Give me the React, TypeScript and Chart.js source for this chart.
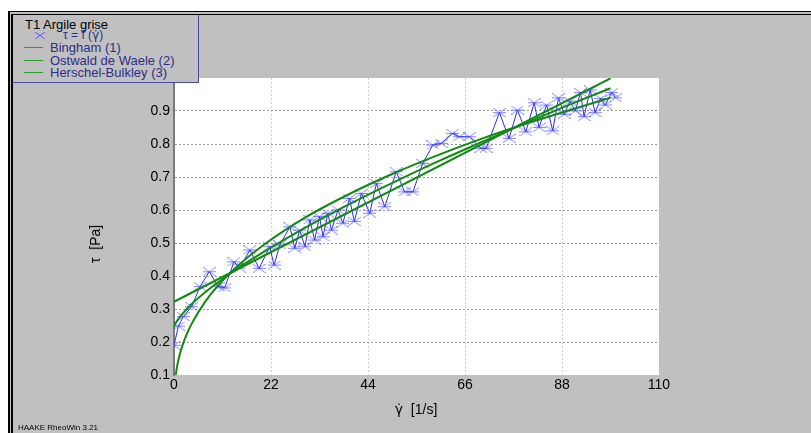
import React, { useEffect, useRef } from 'react';
import { Chart, registerables } from 'chart.js';
Chart.register(...registerables);

// Measured data: shear rate [1/s] and shear stress [Pa]
const shearRate = [0.0, 1.0, 2.1, 4.0, 5.9, 8.0, 10.0, 11.5, 13.6, 14.9, 17.2, 19.3, 21.7, 22.7, 24.0, 26.3, 27.4, 28.5, 29.7, 30.8, 31.9, 33.0, 33.8, 34.9, 35.7, 37.2, 38.3, 39.8, 40.9, 42.5, 44.4, 45.9, 47.8, 50.4, 52.3, 54.2, 56.4, 58.7, 60.6, 63.2, 64.7, 67.0, 69.6, 70.8, 73.8, 76.0, 77.9, 79.8, 81.7, 82.8, 84.5, 85.9, 87.2, 88.5, 89.8, 91.0, 92.2, 93.0, 94.4, 95.5, 96.8, 97.8, 99.3, 100.2];
const shearStress = [0.19, 0.248, 0.277, 0.307, 0.368, 0.413, 0.368, 0.364, 0.443, 0.424, 0.479, 0.423, 0.489, 0.433, 0.494, 0.549, 0.484, 0.539, 0.489, 0.57, 0.509, 0.58, 0.519, 0.59, 0.539, 0.6, 0.56, 0.635, 0.565, 0.65, 0.59, 0.68, 0.61, 0.716, 0.655, 0.655, 0.741, 0.797, 0.802, 0.832, 0.822, 0.822, 0.787, 0.787, 0.895, 0.817, 0.903, 0.837, 0.925, 0.85, 0.918, 0.84, 0.94, 0.89, 0.93, 0.9, 0.956, 0.883, 0.964, 0.895, 0.938, 0.918, 0.956, 0.94];

// Fit curves
const binghamX = [0, 99];
const binghamY = [0.322, 0.999];
const ostwaldX = [0.4, 0.7, 1, 1.5, 2, 3, 4, 7, 10, 15, 20, 30, 40, 50, 60, 70, 80, 90, 99];
const ostwaldY = [0.1, 0.126, 0.1455, 0.172, 0.193, 0.227, 0.255, 0.321, 0.371, 0.437, 0.491, 0.579, 0.65, 0.712, 0.767, 0.817, 0.862, 0.904, 0.94];
const hbX = [0, 0.3, 1, 2, 4, 7, 10, 15, 20, 30, 40, 50, 60, 70, 80, 90, 99];
const hbY = [0.245, 0.2555, 0.27, 0.287, 0.315, 0.35, 0.381, 0.428, 0.47, 0.548, 0.619, 0.685, 0.748, 0.807, 0.865, 0.921, 0.969];

const xTicks = [0, 22, 44, 66, 88, 110];
const yTickLabels = ['0.1', '0.2', '0.3', '0.4', '0.5', '0.6', '0.7', '0.8', '0.9'];

const FONT = '"Liberation Sans", Arial, sans-serif';
const GREEN = '#128a12';
const LEGEND_GREEN = '#2c9c2c';

export default function App() {
  const ref = useRef<HTMLCanvasElement>(null);

  useEffect(() => {
    const marker = document.createElement('canvas');
    marker.width = 13;
    marker.height = 9;
    const m = marker.getContext('2d')!;
    m.strokeStyle = 'rgba(70,70,255,0.65)';
    m.lineWidth = 1;
    m.beginPath();
    m.moveTo(0, 0); m.lineTo(13, 9);
    m.moveTo(0, 9); m.lineTo(13, 0);
    m.moveTo(0, 4.5); m.lineTo(13, 4.5);
    m.stroke();

    const plotBg = {
      id: 'plotBg',
      beforeDraw(chart: any) {
        const { ctx, chartArea: a } = chart;
        ctx.save();
        ctx.fillStyle = '#ffffff';
        ctx.fillRect(a.left, a.top, a.right - a.left, a.bottom - a.top);
        ctx.restore();
      },
    };

    const pts = (xs: number[], ys: number[]) => xs.map((x, i) => ({ x, y: ys[i] }));

    const chart = new Chart(ref.current!, {
      type: 'scatter',
      data: {
        datasets: [
          { label: 'Bingham (1)', data: pts(binghamX, binghamY), showLine: true, borderColor: GREEN, borderWidth: 2, pointRadius: 0, order: 0 },
          { label: 'Ostwald de Waele (2)', data: pts(ostwaldX, ostwaldY), showLine: true, borderColor: GREEN, borderWidth: 2, pointRadius: 0, cubicInterpolationMode: 'monotone', order: 0 },
          { label: 'Herschel-Bulkley (3)', data: pts(hbX, hbY), showLine: true, borderColor: GREEN, borderWidth: 2, pointRadius: 0, cubicInterpolationMode: 'monotone', order: 0 },
          { label: 'τ = f (γ̇)', data: pts(shearRate, shearStress), showLine: true, borderColor: '#2a2aff', borderWidth: 1, pointStyle: marker as any, pointRadius: 5, order: 1 },
        ],
      } as any,
      options: {
        responsive: false,
        animation: false,
        devicePixelRatio: 1,
        layout: { padding: { left: 0, top: 78, right: 152, bottom: 28 } },
        plugins: { legend: { display: false }, tooltip: { enabled: false } },
        scales: {
          x: {
            type: 'linear',
            min: 0,
            max: 110,
            afterFit: (s: any) => { s.height = 30; },
            afterBuildTicks: (s: any) => { s.ticks = xTicks.map((v) => ({ value: v })); },
            ticks: { padding: 2, color: '#000', font: { family: FONT, size: 14 }, maxRotation: 0, callback: (v: any) => String(v) },
            grid: {
              drawTicks: false,
              color: (c: any) => (c.tick && (c.tick.value === 0 || c.tick.value === 110) ? 'rgba(0,0,0,0)' : '#cfcfcf'),
            },
            border: { display: false, dash: [2, 2] },
          },
          y: {
            type: 'linear',
            min: 0.1,
            max: 1.0,
            afterFit: (s: any) => { s.width = 174; },
            afterBuildTicks: (s: any) => {
              s.ticks = yTickLabels.map((t) => ({ value: parseFloat(t) })).concat([{ value: 1.0 }]);
            },
            ticks: {
              padding: 4,
              color: '#000',
              font: { family: FONT, size: 14 },
              callback: (v: any) => {
                const i = yTickLabels.indexOf(Number(v).toFixed(1));
                return i >= 0 ? yTickLabels[i] : '';
              },
            },
            grid: {
              drawTicks: false,
              color: (c: any) => (c.tick && (c.tick.value < 0.15 || c.tick.value > 0.95) ? 'rgba(0,0,0,0)' : '#9a9a9a'),
            },
            border: { display: true, color: '#7a7a7a', width: 2, dash: [2, 2] },
          },
        },
      } as any,
      plugins: [plotBg],
    });
    return () => chart.destroy();
  }, []);

  const legendText: React.CSSProperties = { position: 'absolute', fontSize: 13, color: '#2e2e8c', lineHeight: '13px', whiteSpace: 'nowrap' };
  const legendLine: React.CSSProperties = { position: 'absolute', width: 19, height: 1, background: LEGEND_GREEN };
  const gammaDot = <span style={{ fontFamily: '"DejaVu Sans", sans-serif' }}>γ̇</span>;

  return (
    <div style={{ position: 'fixed', left: 0, top: 0, width: 811, height: 433, background: '#fff', overflow: 'hidden', fontFamily: FONT }}>
      <div style={{ position: 'absolute', left: 8, top: 11, right: 0, bottom: 0, background: '#c0c0c0', borderTop: '4px double #000', borderLeft: '5px double #000', boxSizing: 'border-box' }} />
      <canvas ref={ref} width={811} height={433} style={{ position: 'absolute', left: 0, top: 0, width: 811, height: 433 }} />
      <div style={{ position: 'absolute', left: 13, top: 15, width: 186, height: 68, boxSizing: 'border-box', background: '#c0c0c0', borderRight: '1px solid #4a4aa0', borderBottom: '1px solid #4a4aa0' }}>
        <div style={{ position: 'absolute', left: 12, top: 3, fontSize: 13, color: '#000', lineHeight: '13px', whiteSpace: 'nowrap' }}>T1 Argile grise</div>
        <svg style={{ position: 'absolute', left: 22, top: 17 }} width={10} height={7}>
          <line x1={0} y1={0} x2={10} y2={7} stroke="#5a5aff" strokeWidth={1} />
          <line x1={0} y1={7} x2={10} y2={0} stroke="#5a5aff" strokeWidth={1} />
        </svg>
        <div style={{ position: 'absolute', left: 50, top: 14, fontSize: 12, color: '#2e2e8c', lineHeight: '13px', whiteSpace: 'nowrap' }}>τ = f ({gammaDot})</div>
        <div style={{ ...legendLine, left: 11, top: 32 }} />
        <div style={{ ...legendText, left: 37, top: 26 }}>Bingham (1)</div>
        <div style={{ ...legendLine, left: 11, top: 45 }} />
        <div style={{ ...legendText, left: 37, top: 39 }}>Ostwald de Waele (2)</div>
        <div style={{ ...legendLine, left: 11, top: 57 }} />
        <div style={{ ...legendText, left: 37, top: 51 }}>Herschel-Bulkley (3)</div>
      </div>
      <div style={{ position: 'absolute', left: 95, top: 244, transform: 'translate(-50%, -50%) rotate(-90deg)', fontSize: 14, color: '#000', whiteSpace: 'nowrap' }}>τ&nbsp;&nbsp;[Pa]</div>
      <div style={{ position: 'absolute', left: 416, top: 409, transform: 'translate(-50%, -50%)', fontSize: 14, color: '#000', whiteSpace: 'nowrap' }}>{gammaDot}&nbsp;&nbsp;[1/s]</div>
      <div style={{ position: 'absolute', left: 18, top: 423, fontSize: 8, color: '#000', whiteSpace: 'nowrap', lineHeight: '9px' }}>HAAKE RheoWin 3.21</div>
    </div>
  );
}
